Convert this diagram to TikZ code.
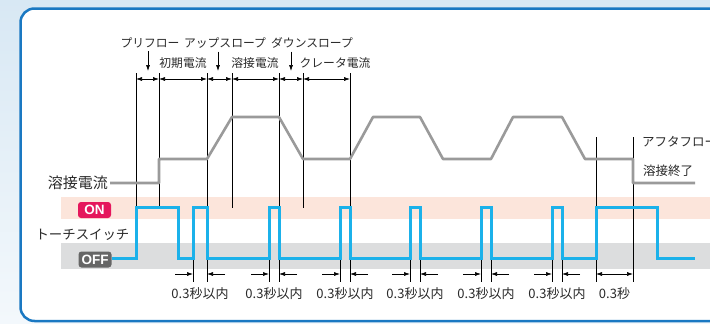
\documentclass[tikz,border=0pt]{standalone}
\usepackage{fontspec}
\setmainfont{Noto Sans CJK JP}
\newfontfamily\badgefont{Liberation Sans}
\usetikzlibrary{arrows.meta}
\definecolor{frameblue}{HTML}{1A78C2}
\definecolor{sigblue}{HTML}{1BB1EA}
\definecolor{curgray}{HTML}{9A9A9A}
\definecolor{onband}{HTML}{FCE5DB}
\definecolor{offband}{HTML}{DCDDDE}
\definecolor{onbadge}{HTML}{E5175C}
\definecolor{offbadge}{HTML}{666666}
\definecolor{txt}{HTML}{2A2A2A}
\definecolor{skyback}{HTML}{D8E8F4}
\begin{document}
\begin{tikzpicture}[x=1pt,y=-1pt,>={Latex[length=6pt,width=4pt]},
	tick/.style={line width=0.6pt},
	dim/.style={<->,line width=0.6pt},
	lbl/.style={text=txt,inner sep=0pt,font=\fontsize{11.8}{12}\selectfont},
	blbl/.style={text=txt,inner sep=0pt,font=\fontsize{13}{13}\selectfont},
	side/.style={text=txt,inner sep=0pt},
	badge/.style={rounded corners=3pt,text=white,inner sep=0pt,minimum width=33pt,minimum height=16pt,font=\badgefont\bfseries\fontsize{13.5}{13.5}\selectfont}]
	\useasboundingbox (0,0) rectangle (710,324);
	\shade[top color=skyback,bottom color=skyback!30] (0,0) rectangle (710,324);
	\draw[frameblue,line width=2.5pt,fill=white,rounded corners=14pt] (20.5,8.5) rectangle (740,321);
	\fill[onband] (61,197) rectangle (710,219);
	\fill[offband] (61,243) rectangle (710,269);
	\node[badge,fill=onbadge] (on) at (94.5,210) {ON};
	\node[badge,fill=offbadge] (off) at (95,259.5) {OFF};
	\node[side,anchor=east,font=\fontsize{15}{15}\selectfont] (cur) at (108,183) {溶接電流};
	\node[side,font=\fontsize{13.4}{14}\selectfont] (torch) at (82.5,235) {トーチスイッチ};
	\node[lbl] (pre) at (150,43) {プリフロー};
	\node[lbl] (up) at (225,43) {アップスロープ};
	\node[lbl] (down) at (312,43) {ダウンスロープ};
	\node[lbl] (init) at (183,63) {初期電流};
	\node[lbl] (weld) at (255,63) {溶接電流};
	\node[lbl] (crater) at (335,63) {クレータ電流};
	\coordinate (pa) at (148,71);
	\coordinate (ua) at (218,71);
	\coordinate (da) at (291,71);
	\draw[->,tick] (pre.south -| pa) ++(0,3) -- (pa);
	\draw[->,tick] (up.south -| ua) ++(0,3) -- (ua);
	\draw[->,tick] (down.south -| da) ++(0,3) -- (da);
	\foreach \n/\x in {0/136,1/159,2/207,3/232,4/279,5/303,6/350} {
		\coordinate (t\n) at (\x,73);
		\coordinate (d\n) at (\x,79);
		\draw[tick] (t\n) -- (\x,207.5);
	}
	\foreach \a/\b in {0/1,1/2,2/3,3/4,4/5,5/6}
		\draw[dim] (d\a) -- (d\b);
	\coordinate (f0) at (596,137);
	\coordinate (f1) at (633,137);
	\draw[tick] (f0) -- (596,282);
	\draw[tick] (f1) -- (633,282);
	\draw[dim] (596,274) -- (633,274);
	\node[blbl] (last) at (614.5,294) {0.3秒};
	\node[lbl,anchor=west,font=\fontsize{12.5}{13}\selectfont] (after) at (642,142) {アフタフロー};
	\node[lbl,anchor=west,font=\fontsize{12.5}{13}\selectfont] (stop) at (643,171) {溶接終了};
	\draw[curgray,line width=2.6pt,line join=round] (cur.east) ++(2,0) -- (159,183) -- (159,159) -- (207,159)
		-- (232,117) -- (279,117) -- (303,159) -- (350,159) -- (373,117) -- (420,117)
		-- (443,159) -- (491,159) -- (513,117) -- (562,117) -- (585,159) -- (633,159)
		-- (633,183) -- (695,183);
	\foreach \a/\b in {193/207,269/279,340/350,410/420,481/491,552/562} {
		\draw[tick] (\a,258) -- (\a,282) (\b,258) -- (\b,282);
		\draw[->,tick] (\a-18,274) -- (\a,274);
		\draw[->,tick] (\b+18,274) -- (\b,274);
		\node[blbl] (w\a) at ({(\a+\b)/2},294) {0.3秒以内};
	}
	\draw[sigblue,line width=3pt] (off.east |- 0,258) -- (136,258) -- (136,207.5) -- (178,207.5) -- (178,258)
		-- (193,258) -- (193,207.5) -- (207,207.5) -- (207,258)
		-- (269,258) -- (269,207.5) -- (279,207.5) -- (279,258)
		-- (340,258) -- (340,207.5) -- (350,207.5) -- (350,258)
		-- (410,258) -- (410,207.5) -- (420,207.5) -- (420,258)
		-- (481,258) -- (481,207.5) -- (491,207.5) -- (491,258)
		-- (552,258) -- (552,207.5) -- (562,207.5) -- (562,258)
		-- (596,258) -- (596,207.5) -- (657,207.5) -- (657,258) -- (695,258);
\end{tikzpicture}
\end{document}
